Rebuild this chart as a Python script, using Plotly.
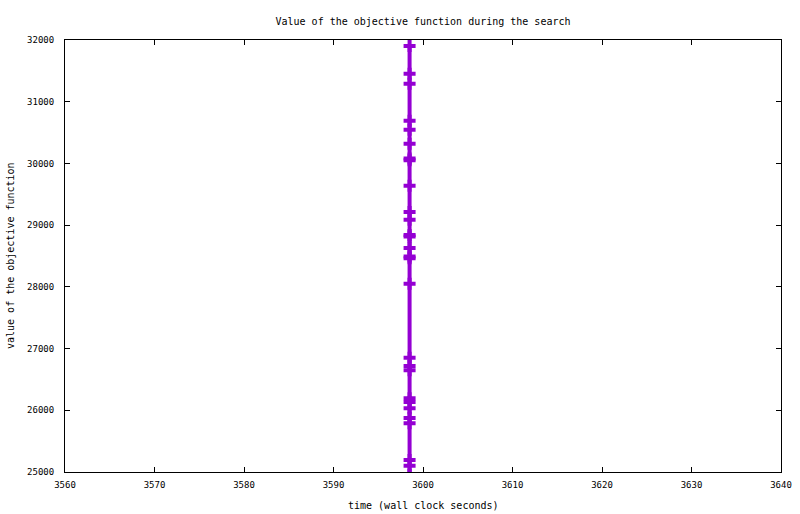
import plotly.graph_objects as go

# Data (objective value over wall-clock time)
times = [3598.5] * 26
values = [31903, 31454, 31292, 30692, 30546, 30320, 30080, 30050, 29639,
          29213, 29088, 28840, 28815, 28629, 28490, 28465, 28051, 26852,
          26717, 26647, 26194, 26134, 26032, 25875, 25789, 25194]
values_tail = [25101, 24950]
times_tail = [3598.5, 3598.5]
times = times + times_tail
values = values + values_tail

x_ticks = [3560, 3570, 3580, 3590, 3600, 3610, 3620, 3630, 3640]
y_ticks = [25000, 26000, 27000, 28000, 29000, 30000, 31000, 32000]

FONT = "DejaVu Sans Mono"
PURPLE = "#9400d3"

fig = go.Figure()
fig.add_trace(go.Scatter(
    x=times, y=values, mode="lines+markers",
    line=dict(color=PURPLE, width=4),
    marker=dict(symbol="cross", size=10, color=PURPLE, line=dict(width=0)),
    showlegend=False,
))

axis_common = dict(
    showline=True, linecolor="black", linewidth=1, mirror="allticks",
    ticks="inside", ticklen=5, tickcolor="black", tickwidth=1,
    showgrid=False, zeroline=False, automargin=False,
    tickfont=dict(family=FONT, size=9, color="black"),
)

fig.update_layout(
    width=800, height=514,
    margin=dict(l=65, r=19, t=40, b=42),
    paper_bgcolor="white", plot_bgcolor="white",
    title=dict(text="Value of the objective function during the search",
               x=(423) / 800, xanchor="center", y=1 - 21 / 514, yanchor="middle",
               font=dict(family=FONT, size=10, color="black")),
    xaxis=dict(range=[3560, 3640], tickvals=x_ticks, ticklabelstandoff=4,
               ticktext=[str(v) for v in x_ticks], **axis_common),
    yaxis=dict(range=[25000, 32000], tickvals=y_ticks, ticklabelstandoff=8,
               ticktext=[str(v) for v in y_ticks], **axis_common),
    annotations=[
        dict(text="time (wall clock seconds)", xref="paper", yref="paper",
             x=0.5, y=(472 - 505) / 432, xanchor="center", yanchor="middle",
             showarrow=False, font=dict(family=FONT, size=10, color="black")),
        dict(text="value of the objective function", xref="paper", yref="paper",
             x=(10 - 65) / 716, y=0.5, xanchor="center", yanchor="middle",
             textangle=-90, showarrow=False,
             font=dict(family=FONT, size=10, color="black")),
    ],
)

fig.write_html("out.html", config={"displayModeBar": False},
               post_script="document.body.style.margin='0';document.body.style.overflow='hidden';")
